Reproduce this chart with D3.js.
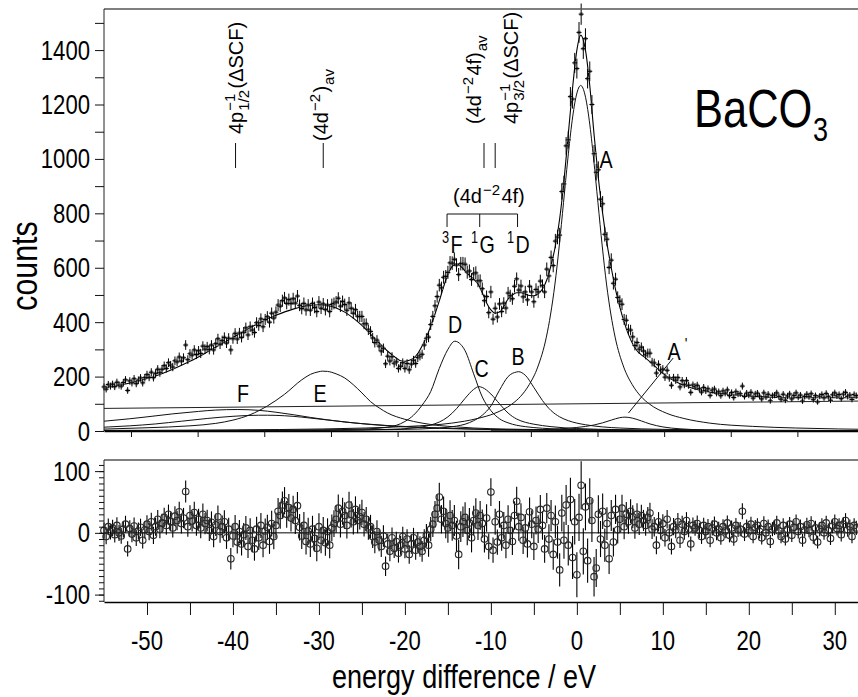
<!DOCTYPE html>
<html><head><meta charset="utf-8">
<script src="https://cdn.jsdelivr.net/npm/d3@7"></script>
<style>body{margin:0;background:#fff}svg{display:block}</style>
</head><body>
<svg id="c" width="858" height="697"></svg>
<script>
// ---------------- data ----------------
const energyStart = -55, energyStep = 0.25;   // eV grid of the measured points
const observedCounts = [
162,154,171,165, 172,163,179,169, 165,178,188,149, 184,177,192,174, 187,195,177,196,
207,197,216,196, 212,227,214,227, 240,230,251,242, 235,258,254,272, 257,269,316,262,
284,279,298,281, 295,285,312,301, 310,299,316,298, 321,339,319,332, 344,323,341,298,
339,359,338,360, 344,363,379,353, 383,371,362,398, 388,412,383,410, 420,400,433,415,
437,463,459,479, 489,469,483,469, 486,470,496,462, 450,469,445,463, 444,469,454,439,
474,451,467,446, 463,439,465,469, 474,488,459,476, 465,444,471,451, 433,446,422,421,
421,394,394,372, 366,342,325,334, 312,294,304,247, 275,257,273,249, 254,230,238,251,
230,248,225,246, 260,248,270,276, 282,316,341,345, 391,421,460,494, 536,526,565,568,
583,618,617,631, 610,575,615,615, 613,584,588,557, 578,581,552,552, 523,479,494,435,
511,411,451,419, 467,439,470,452, 507,497,486,532, 559,518,533,493, 511,482,532,511,
475,520,511,551, 534,511,595,570, 638,608,698,713, 720,880,908,1048, 1070,1229,1220,1353,
1332,1465,1532,1405, 1442,1295,1322,1200, 1019,951,960,852, 835,723,705,601, 628,543,558,491,
477,466,410,407, 373,371,346,314, 325,301,308,294, 280,286,286,253, 250,213,244,223,
227,198,223,195, 168,196,187,196, 162,185,170,185, 168,142,169,163, 168,155,143,160,
148,155,131,150, 154,139,144,130, 147,139,151,130, 141,123,144,136, 137,165,127,139,
132,142,121,136, 139,128,118,140, 125,135,111,130, 132,140,127,117, 135,113,129,136,
118,131,140,124, 132,110,127,135, 126,137,115,130, 107,128,134,122, 138,126,113,133,
140,129,134,119, 136,142,127,132, 116,134,130
];
const residualCounts = [
4,-6,10,2, 8,-3,12,0, -5,6,14,-26, 7,-2,11,-8, 3,9,-12,5,
14,2,18,-4, 10,22,6,16, 25,12,30,18, 8,27,20,34, 15,24,67,10,
28,19,33,12, 22,8,30,15, 20,4,17,-6, 13,26,2,10, 18,-8,6,-42,
-5,10,-15,2, -18,-3,8,-22, 4,-12,-26,6, -8,12,-20,3, 9,-14,15,-6,
12,35,28,45, 52,30,41,24, 38,20,44,9, -5,12,-14,3, -18,6,-9,-25,
10,-12,4,-16, 2,-20,8,15, 22,40,14,35, 28,12,45,30, 18,38,20,26,
33,14,22,8, 10,-6,-15,2, -12,-22,-5,-54, -18,-30,-8,-25, -14,-33,-20,-6,
-26,-10,-35,-18, -8,-28,-15,-22, -30,-12,-4,-20, 6,14,30,40, 58,22,35,15,
8,28,12,20, -5,-35,10,18, 25,4,16,-8, 20,32,12,28, 15,-10,24,-22,
66,-28,18,-15, 30,-8,12,-20, 22,4,-14,28, 51,10,25,-12, 8,-18,34,14,
-22,20,6,38, 12,-26,40,-10, 28,-35,18,-15, -60,32,-12,45, -20,54,-40,18,
-68,25,77,-30, 42,-45,52,20, -71,-57,30,-10, 35,-20,15,-42, 28,-15,38,5,
22,40,10,30, 18,35,26,8, 30,14,28,20, 12,25,32,6, 10,-20,18,4,
15,-8,22,0, -22,10,5,18, -12,14,2,20, 6,-18,12,8, 15,4,-6,12,
2,10,-12,8, 14,0,6,-8, 10,3,16,-4, 8,-10,12,5, 6,35,-2,10,
4,14,-6,9, 12,2,-8,15, 0,10,-14,6, 8,16,3,-6, 12,-10,6,14,
-4,9,18,2, 10,-12,5,13, 4,15,-7,8, -15,6,12,0, 16,4,-9,11,
18,7,12,-3, 14,20,5,10, -6,12,8
];
// total fit curve [eV, counts]
const fitTotal = [[-55,158],[-53,170],[-51,184],[-49,202],[-47,227],[-45,256],[-43,290],[-41,326],[-39,362],[-37,396],[-35,425],[-33,448],[-31,462],[-30,464],[-29,461],[-28,452],[-27,437],[-26,415],[-25,388],[-24,356],[-23,324],[-22,293],[-21,268],[-20.5,258],[-20,256],[-19.5,260],[-19,268],[-18.5,285],[-18,312],[-17.5,345],[-17,385],[-16.5,430],[-16,478],[-15.5,530],[-15,575],[-14.5,605],[-14,615],[-13.5,605],[-13,588],[-12.5,572],[-12,558],[-11.5,540],[-11,508],[-10.5,470],[-10,445],[-9.5,433],[-9,437],[-8.5,458],[-8,485],[-7.5,500],[-7,508],[-6.5,508],[-6,503],[-5.5,498],[-5,497],[-4.5,505],[-4,522],[-3.5,555],[-3,610],[-2.5,680],[-2,780],[-1.5,920],[-1,1090],[-0.5,1260],[0,1400],[0.45,1455],[1,1400],[1.5,1270],[2,1090],[2.5,930],[3,800],[3.5,690],[4,600],[4.5,520],[5,455],[5.5,400],[6,355],[6.5,320],[7,295],[7.5,280],[8,268],[9,240],[10,212],[11,190],[12,174],[13,162],[14,153],[15,146],[16,140],[18,133],[20,128],[22,125],[25,122],[32.7,122]];
// fit components [eV, counts]
const componentA = [[-55,2.2],[-39.55,4.2],[-29.55,7.5],[-24.55,11],[-19.55,17],[-14.55,29],[-11.55,46],[-9.55,65],[-7.55,99],[-6.55,127],[-5.55,170],[-4.55,235],[-3.55,345],[-3.05,430],[-2.55,540],[-2.05,680],[-1.55,840],[-1.05,1000],[-0.55,1140],[-0.05,1235],[0.45,1270],[0.95,1235],[1.45,1140],[1.95,1000],[2.45,840],[2.95,680],[3.45,540],[3.95,430],[4.45,345],[5.45,235],[6.45,170],[7.45,127],[8.45,99],[10.45,65],[12.45,46],[15.45,29],[20.45,17],[25.45,11],[30.45,7.5],[32.7,6.5]];
const componentAprime = [[-10,3],[-4,5],[-2,8],[0,13],[2,22],[3,30],[4,40],[5,49],[5.6,51],[6.5,47],[7.5,37],[8.5,26],[10,15],[12,8],[15,4],[20,2],[32.7,1]];
const componentB = [[-55,1],[-30,3],[-20,6],[-16,11],[-14,18],[-13,25],[-12,38],[-11,58],[-10,92],[-9,150],[-8,200],[-7,217],[-6.8,218],[-6,205],[-5,160],[-4,112],[-3,75],[-2,52],[-1,38],[0,29],[1,23],[3,15],[5,11],[10,6],[20,3],[32.7,1.5]];
const componentC = [[-55,1],[-30,2],[-22,6],[-19,11],[-18,15],[-17,22],[-16,33],[-15,52],[-14,82],[-13,120],[-12,153],[-11.4,163],[-11,160],[-10,136],[-9,100],[-8,66],[-7,44],[-6,32],[-5,25],[-3,16],[0,9],[5,5],[15,2],[32.7,1]];
const componentD = [[-55,1],[-40,2],[-30,4],[-25,7],[-22,14],[-20,35],[-19,58],[-18,95],[-17,145],[-16,230],[-15,300],[-14.2,330],[-13.5,318],[-13,295],[-12,210],[-11,125],[-10,75],[-9,45],[-8,30],[-7,21],[-6,16],[-4,10],[0,5],[10,2],[32.7,1]];
const componentE = [[-55,7],[-50,12],[-45,19],[-42,28],[-40,40],[-38,60],[-36,92],[-34,135],[-32,188],[-31,208],[-30,218],[-29.6,220],[-29,219],[-28,210],[-27,195],[-26,170],[-25,140],[-24,108],[-23,85],[-22,66],[-20,43],[-18,29],[-16,20],[-14,15],[-12,11],[-8,7],[-4,5],[5,2.5],[32.7,1]];
const componentF = [[-55,36],[-52,45],[-50,52],[-47,63],[-44,72],[-42,77],[-39.5,79],[-37,76],[-35,69],[-33,60],[-31,50],[-29,41],[-27,33],[-25,27],[-22,20],[-19,15],[-15,10],[-10,6],[-5,4],[5,2],[32.7,1]];
const componentF2 = [[-55,14],[-52,19],[-49,26],[-46,36],[-43,46],[-40,54],[-37,58],[-36,58],[-34,56],[-32,51],[-30,44],[-28,37],[-26,30],[-24,24],[-21,17],[-18,12],[-14,8],[-10,5],[0,2],[32.7,1]];
const background = [[-55,83],[32.7,110]];
// annotations
const markerEnergies = [-39.7, -29.5, -10.8, -9.5];
const bracketEnergies = [-15.1, -11.3, -6.9];
// ticks
const energyTickLabels = [-50,-40,-30,-20,-10,0,10,20,30];
const energyTicks = [-50,-45,-40,-35,-30,-25,-20,-15,-10,-5,0,5,10,15,20,25,30];
const topPanelTicks = [-51.86,-44.11,-36.36,-28.6,-20.85,-13.1,-5.35,2.4,10.15,17.9,25.65];
const countTickLabels = [0,200,400,600,800,1000,1200,1400];
const countTicks = d3.range(0,1501,100);
const residualTickLabels = [-100,0,100];
const residualTicks = d3.range(-110,111,10);

// ---------------- drawing ----------------
const svg = d3.select('#c');
const REG = "'Liberation Sans',Arial,sans-serif";
const NARROW = "'Liberation Sans Narrow','Liberation Sans',Arial,sans-serif";
function measureW(fam,str,size){const t=svg.append('text').attr('font-family',fam).attr('font-size',size).text(str);const w=t.node().getComputedTextLength();t.remove();return w;}
const hasNarrow = measureW(NARROW,'energy difference',40) < 0.92*measureW(REG,'energy difference',40);
const SX = hasNarrow ? 1 : 0.82;
const NFAM = hasNarrow ? NARROW : REG;

function ntext(parent,x,y,str,size,anchor='start',rot=0){
  const g=parent.append('g').attr('transform',`translate(${x},${y}) rotate(${rot}) scale(${SX},1)`);
  g.append('text').attr('font-family',NFAM).attr('font-size',size).attr('text-anchor',anchor).attr('fill','#000').text(str);
  return g;
}
function rich(parent,tx,ty,rot,parts,size,fam,sx=1,sr=0.75){
  const g=parent.append('g').attr('transform',`translate(${tx},${ty}) rotate(${rot}) scale(${sx},1)`);
  let cx=0;
  for(const p of parts){
    if(p.t!==undefined){const t=g.append('text').attr('x',cx).attr('y',0).attr('font-family',fam).attr('font-size',size).text(p.t);cx+=t.node().getComputedTextLength();}
    else{const ss=size*sr;let w=0;
      if(p.sup!==undefined){const t=g.append('text').attr('x',cx+size*0.05).attr('y',-size*0.42).attr('font-family',fam).attr('font-size',ss).text(p.sup);w=Math.max(w,t.node().getComputedTextLength());}
      if(p.sub!==undefined){const t=g.append('text').attr('x',cx+size*0.05).attr('y',size*0.32).attr('font-family',fam).attr('font-size',ss).text(p.sub);w=Math.max(w,t.node().getComputedTextLength());}
      cx+=w+size*0.12;}
  }
  return g;
}

const L=104, R=858, T1=9, B1=431, T2=460, B2=602;
const x = d3.scaleLinear().domain([-55,32.7]).range([L,R]);
const yT = d3.scaleLinear().domain([0,1551]).range([B1,T1]);
const yR = d3.scaleLinear().domain([-112,118]).range([B2,T2]);

const defs=svg.append('defs');
defs.append('clipPath').attr('id','clipTop').append('rect').attr('x',L).attr('y',T1).attr('width',R-L).attr('height',B1-T1);

// components
const line = d3.line().x(d=>x(d[0])).y(d=>yT(d[1])).curve(d3.curveMonotoneX);
const comps = svg.append('g').attr('clip-path','url(#clipTop)').attr('fill','none').attr('stroke','#111').attr('stroke-width',1);
[componentA,componentAprime,componentB,componentC,componentD,componentE,componentF,componentF2].forEach(c=>comps.append('path').attr('d',line(c)));
comps.append('path').attr('d',d3.line().x(d=>x(d[0])).y(d=>yT(d[1]))(background)).attr('stroke','#222');
comps.append('path').attr('d',line(fitTotal)).attr('stroke','#000').attr('stroke-width',1.1);

// observed data
const obs = observedCounts.map((c,i)=>({e:energyStart+i*energyStep,c,r:residualCounts[i]}));
const dg = svg.append('g');
obs.forEach(d=>{
  const px=x(d.e), py=yT(d.c), s=Math.sqrt(d.c);
  dg.append('rect').attr('x',px-1.7).attr('y',py-1.7).attr('width',3.4).attr('height',3.4).attr('fill','#8c8c8c');
  dg.append('line').attr('x1',px).attr('x2',px).attr('y1',yT(d.c-s)).attr('y2',yT(d.c+s)).attr('stroke','#000').attr('stroke-width',1);
  dg.append('line').attr('x1',px-2.5).attr('x2',px+2.5).attr('y1',py).attr('y2',py).attr('stroke','#000').attr('stroke-width',1);
});

// top panel frame and axes
svg.append('line').attr('x1',L).attr('x2',R).attr('y1',T1).attr('y2',T1).attr('stroke','#555').attr('stroke-width',1.5);
const axL = svg.append('g').attr('transform',`translate(${L},0)`).call(d3.axisLeft(yT).tickValues(countTicks).tickSize(9).tickSizeOuter(0).tickFormat(''));
axL.select('.domain').attr('stroke','#222').attr('d',`M0,${T1}V${B1}`);
countTickLabels.forEach(v=>ntext(svg,90,yT(v)+9.5,String(v),27,'end'));
const axB1 = svg.append('g').attr('transform',`translate(0,${B1})`).call(d3.axisBottom(x).tickValues(topPanelTicks).tickSize(6).tickSizeOuter(0).tickFormat(''));
axB1.select('.domain').attr('stroke','#000').attr('stroke-width',1.5);

// residual panel
svg.append('line').attr('x1',L).attr('x2',R).attr('y1',T2).attr('y2',T2).attr('stroke','#555').attr('stroke-width',1.5);
svg.append('line').attr('x1',L).attr('x2',R).attr('y1',yR(0)).attr('y2',yR(0)).attr('stroke','#000').attr('stroke-width',1);
const rg = svg.append('g');
obs.forEach(d=>{
  const px=x(d.e), s=Math.sqrt(d.c);
  rg.append('line').attr('x1',px).attr('x2',px).attr('y1',yR(d.r-s)).attr('y2',yR(d.r+s)).attr('stroke','#000').attr('stroke-width',1.1);
});
obs.forEach(d=>{
  rg.append('circle').attr('cx',x(d.e)).attr('cy',yR(d.r)).attr('r',3.3).attr('fill','none').attr('stroke','#2a2a2a').attr('stroke-width',1.1);
});
const axL2m = svg.append('g').attr('transform',`translate(${L},0)`).call(d3.axisLeft(yR).tickValues(residualTicks).tickSize(5).tickSizeOuter(0).tickFormat(''));
axL2m.select('.domain').attr('stroke','#222').attr('d',`M0,${T2}V${B2}`);
svg.append('g').attr('transform',`translate(${L},0)`).call(d3.axisLeft(yR).tickValues(residualTickLabels).tickSize(9).tickSizeOuter(0).tickFormat('')).select('.domain').remove();
residualTickLabels.forEach(v=>ntext(svg,90,yR(v)+9.5,String(v),27,'end'));
const axB2 = svg.append('g').attr('transform',`translate(0,${B2})`).call(d3.axisBottom(x).tickValues(energyTicks).tickSize(13).tickSizeOuter(0).tickFormat(''));
axB2.select('.domain').attr('stroke','#000').attr('stroke-width',1.5);
energyTickLabels.forEach(v=>ntext(svg,x(v),650,String(v),27,'middle'));
svg.selectAll('.tick line').attr('stroke','#111');

// axis titles
ntext(svg,37,266,'counts',37,'middle',-90);
ntext(svg,464,688,'energy difference / eV',33,'middle');

// sample label
ntext(svg,694,127,'BaCO',53);
ntext(svg,813,141,'3',33);

// component labels
ntext(svg,606,168,'A',24,'middle');
ntext(svg,674,360,'A',24,'middle');
ntext(svg,686,350,"'",17,'middle');
ntext(svg,518,365,'B',24,'middle');
ntext(svg,481.7,377,'C',24,'middle');
ntext(svg,455,333,'D',24,'middle');
ntext(svg,320,402,'E',24,'middle');
ntext(svg,243,402,'F',24,'middle');
svg.append('line').attr('x1',x(6.0)).attr('y1',yT(66)).attr('x2',x(11.2)).attr('y2',yT(268)).attr('stroke','#111');

// vertical markers
markerEnergies.forEach(e=>svg.append('line').attr('x1',x(e)).attr('x2',x(e)).attr('y1',143).attr('y2',168).attr('stroke','#111'));
// bracket
svg.append('line').attr('x1',x(bracketEnergies[0])).attr('x2',x(bracketEnergies[2])).attr('y1',214).attr('y2',214).attr('stroke','#111');
bracketEnergies.forEach(e=>svg.append('line').attr('x1',x(e)).attr('x2',x(e)).attr('y1',214).attr('y2',227).attr('stroke','#111'));

// rotated annotations
rich(svg,243,134,-90,[{t:'4p'},{sup:'−1',sub:'1/2'},{t:'(ΔSCF)'}],20,REG);
rich(svg,328,141,-90,[{t:'(4d'},{sup:'−2'},{t:')'},{sub:'av'}],20,REG);
rich(svg,481,124,-90,[{t:'(4d'},{sup:'−2'},{t:'4f)'},{sub:'av'}],20,REG);
rich(svg,518,124,-90,[{t:'4p'},{sup:'−1',sub:'3/2'},{t:'(ΔSCF)'}],20,REG);
rich(svg,453,203,0,[{t:'(4d'},{sup:'−2'},{t:'4f)'}],20,REG);
rich(svg,441,253,0,[{sup:'3'},{t:'F'}],24,NFAM,SX,0.65);
rich(svg,470,253,0,[{sup:'1'},{t:'G'}],24,NFAM,SX,0.65);
rich(svg,506,253,0,[{sup:'1'},{t:'D'}],24,NFAM,SX,0.65);
</script>
</body></html>
